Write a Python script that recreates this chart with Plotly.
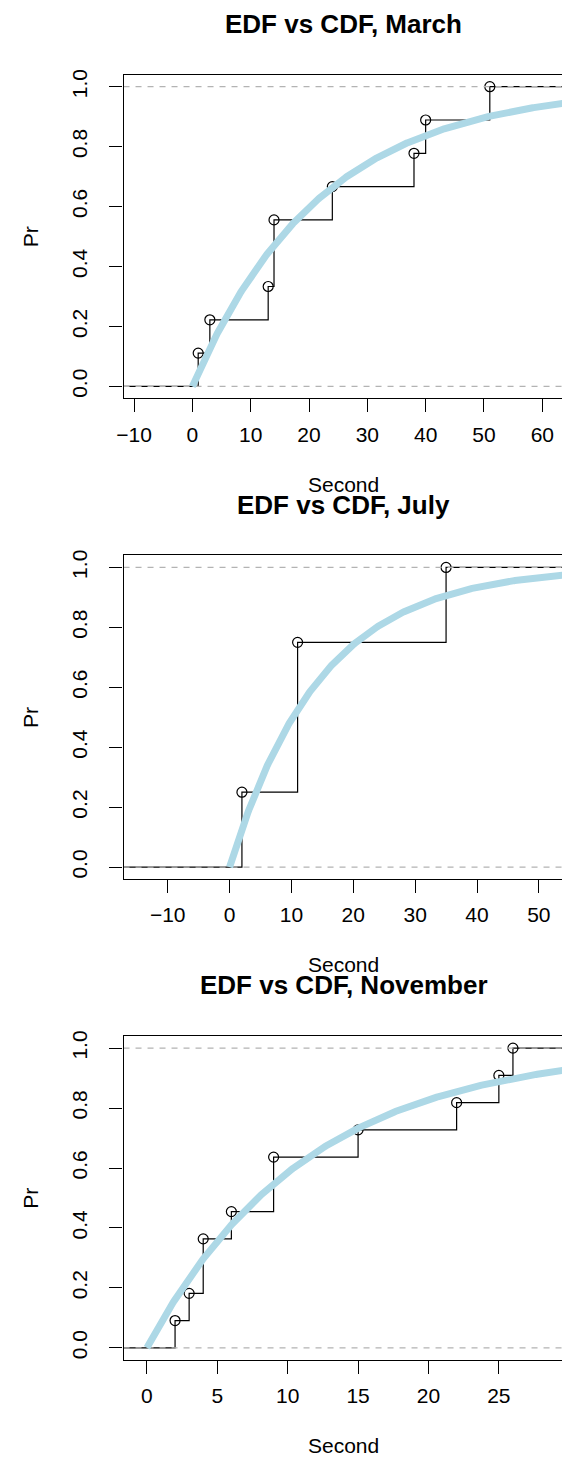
import numpy as np
import plotly.graph_objects as go

FONT = "Liberation Sans, Arial, Helvetica, sans-serif"
W, H = 562, 1459

# Waiting times (seconds) observed in each month
months = ["March", "July", "November"]
march_sec = [1, 3, 13, 14, 14, 24, 38, 40, 51]
july_sec = [2, 11, 11, 35]
november_sec = [2, 3, 4, 4, 6, 9, 9, 15, 22, 25, 26]
samples = [march_sec, july_sec, november_sec]

x_ticks = [list(range(-10, 61, 10)), list(range(-10, 51, 10)), list(range(0, 26, 5))]
y_ticks = [0.0, 0.2, 0.4, 0.6, 0.8, 1.0]
y_tick_text = ["0.0", "0.2", "0.4", "0.6", "0.8", "1.0"]

# page geometry (pixels)
PLOT_LEFT = 118.0
PLOT_RIGHT_FULL = 564.5
PANEL_TOP = [69.0, 551.7, 1034.4]
PANEL_H = 325.0
TITLE_OFF = -51.0
XLAB_OFF = 411.0
CENTER_X = (PLOT_LEFT + PLOT_RIGHT_FULL) / 2


def step_limits(knots):
    """Horizontal limits in the style of R's plot.stepfun (with 4% padding)."""
    k = np.asarray(knots, dtype=float)
    rx = (k.min(), k.max())
    dr = max(0.08 * (rx[1] - rx[0]), float(np.median(np.diff(k))))
    lo, hi = rx[0] - dr, rx[1] + dr
    pad = 0.04 * (hi - lo)
    return lo - pad, hi + pad


fig = go.Figure()
annotations = []

for i, (month, data) in enumerate(zip(months, samples)):
    n = i + 1
    xs = "x" if n == 1 else f"x{n}"
    ys = "y" if n == 1 else f"y{n}"
    arr = np.sort(np.asarray(data, dtype=float))
    knots = np.unique(arr)
    cum = np.array([(arr <= k).sum() / len(arr) for k in knots])
    lo, hi = step_limits(knots)
    vis_hi = lo + (hi - lo) * (W - PLOT_LEFT) / (PLOT_RIGHT_FULL - PLOT_LEFT)

    # empirical distribution function as a step line
    fig.add_trace(go.Scatter(
        x=[lo] + list(knots) + [hi], y=[0] + list(cum) + [1],
        mode="lines", line=dict(color="black", width=1.2, shape="hv"),
        xaxis=xs, yaxis=ys, showlegend=False, hoverinfo="skip"))
    fig.add_trace(go.Scatter(
        x=knots, y=cum, mode="markers",
        marker=dict(symbol="circle-open", size=10, color="black",
                    line=dict(width=1.2, color="black")),
        xaxis=xs, yaxis=ys, showlegend=False))
    # reference lines at 0 and 1
    for level in (0, 1):
        fig.add_trace(go.Scatter(
            x=[lo, hi], y=[level, level], mode="lines",
            line=dict(color="#B3B3B3", width=1.2, dash="6px,6px"),
            xaxis=xs, yaxis=ys, showlegend=False, hoverinfo="skip"))
    # fitted exponential CDF
    rate = 1.0 / arr.mean()
    cx = np.linspace(0, hi, 400)
    fig.add_trace(go.Scatter(
        x=cx, y=1 - np.exp(-rate * cx), mode="lines",
        line=dict(color="#ADD8E6", width=7),
        xaxis=xs, yaxis=ys, showlegend=False, hoverinfo="skip"))

    top = PANEL_TOP[i]
    dom_y = [1 - (top + PANEL_H) / H, 1 - top / H]
    fig.layout[f"xaxis{'' if n == 1 else n}"] = dict(
        domain=[PLOT_LEFT / W, 1], range=[lo, vis_hi], anchor=ys,
        tickmode="array", tickvals=x_ticks[i],
        ticks="outside", ticklen=13, tickwidth=1.2, tickcolor="black",
        showline=True, linecolor="black", linewidth=1.2, mirror=True,
        showgrid=False, zeroline=False, ticklabelstandoff=4,
        tickfont=dict(family=FONT, size=21, color="black"))
    fig.layout[f"yaxis{'' if n == 1 else n}"] = dict(
        domain=dom_y, range=[-0.04, 1.04], anchor=xs,
        tickmode="array", tickvals=y_ticks, ticktext=y_tick_text, tickangle=-90,
        ticks="outside", ticklen=13, tickwidth=1.2, tickcolor="black",
        showline=True, linecolor="black", linewidth=1.2, mirror=False,
        showgrid=False, zeroline=False, ticklabelstandoff=14,
        tickfont=dict(family=FONT, size=21, color="black"))

    annotations.append(dict(
        text=f"<b>EDF vs CDF, {month}</b>", x=CENTER_X / W, y=1 - (top + TITLE_OFF) / H,
        xref="paper", yref="paper", xanchor="center", yanchor="middle", showarrow=False,
        font=dict(family=FONT, size=26, color="black")))
    annotations.append(dict(
        text="Second", x=CENTER_X / W, y=1 - (top + XLAB_OFF) / H,
        xref="paper", yref="paper", xanchor="center", yanchor="middle", showarrow=False,
        font=dict(family=FONT, size=21, color="black")))
    annotations.append(dict(
        text="Pr", x=24 / W, y=1 - (top + PANEL_H / 2) / H, textangle=-90,
        xref="paper", yref="paper", xanchor="center", yanchor="middle", showarrow=False,
        font=dict(family=FONT, size=21, color="black")))

fig.update_layout(
    width=W, height=H, margin=dict(l=0, r=0, t=0, b=0),
    paper_bgcolor="white", plot_bgcolor="white",
    annotations=annotations, showlegend=False)

fig.write_html("out.html")
